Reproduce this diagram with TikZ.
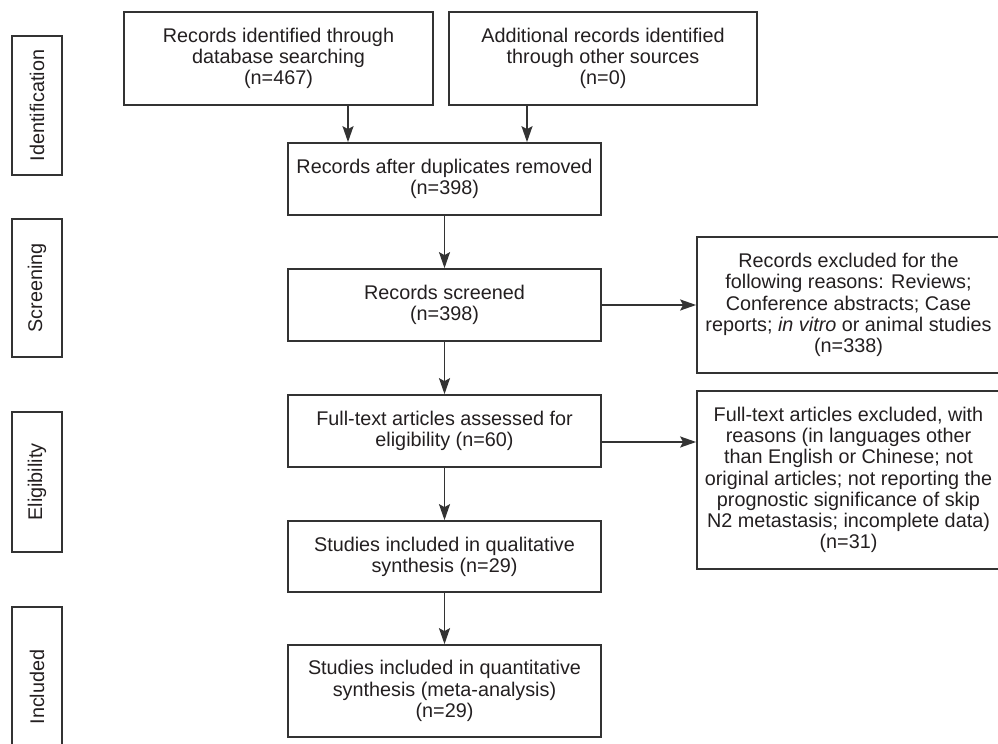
\documentclass[tikz,border=0pt]{standalone}
\usepackage{fontspec}
\setmainfont{Liberation Sans}
\usetikzlibrary{arrows.meta}
\definecolor{trait}{HTML}{333333}
\definecolor{texte}{HTML}{231F20}
\begin{document}
\begin{tikzpicture}[x=0.5pt,y=-0.5pt,
  font=\fontsize{9.9pt}{10.6pt}\selectfont, text=texte,
  boite/.style={draw=trait, line width=0.85pt, rectangle, align=center,
    minimum width=156.5pt, inner sep=2pt},
  etape/.style={draw=trait, line width=0.85pt, rectangle, rotate=90,
    minimum height=25pt, inner sep=1pt},
  fleche/.style={draw=trait, line width=0.85pt,
    -{Stealth[length=8pt,width=5.5pt,inset=1.5pt]}}]
\def\dx{34.75pt}
\useasboundingbox (0,0) rectangle (998,744);

% colonne des étapes
\node[etape, minimum width=69.5pt] (ident) at (37,105.5) {Identification};
\node[etape, minimum width=69pt] (scr) at (37,288) {Screening};
\node[etape, minimum width=70pt] (elig) at (37,482) {Eligibility};
\node[etape, minimum width=80pt] (incl) at (37,687) {Included};

% boites du haut
\node[boite, minimum width=154.5pt, minimum height=46.5pt] (db) at (278.5,58.5)
  {Records identified through\\database searching\\(n=467)};
\node[boite, minimum width=154pt, minimum height=46.5pt] (other) at (603,58.5)
  {Additional records identified\\through other sources\\(n=0)};

% colonne centrale
\node[boite, minimum height=36pt] (dup) at (444.5,179)
  {Records after duplicates removed\\(n=398)};
\node[boite, minimum height=36pt] (screen) at (444.5,305)
  {Records screened\\(n=398)};
\node[boite, minimum height=36pt] (full) at (444.5,431)
  {Full-text articles assessed for\\eligibility (n=60)};
\node[boite, minimum height=35.5pt] (qual) at (444.5,556.5)
  {Studies included in qualitative\\synthesis (n=29)};
\node[boite, minimum height=46pt] (quant) at (444.5,691)
  {Studies included in quantitative\\synthesis (meta-analysis)\\(n=29)};

% exclusions à droite
\node[boite, minimum width=151.5pt, minimum height=68pt] (excl) at (848.5,305)
  {Records excluded for the\\following reasons: Reviews;\\Conference abstracts; Case\\reports; \textit{in vitro} or animal studies\\(n=338)};
\node[boite, minimum width=151.5pt, minimum height=89pt] (exclfull) at (848.5,480)
  {Full-text articles excluded, with\\reasons (in languages other\\than English or Chinese; not\\original articles; not reporting the\\prognostic significance of skip\\N2 metastasis; incomplete data)\\(n=31)};

% flèches
\draw[fleche] ([xshift=\dx]db.south) -- ([xshift=\dx]db.south |- dup.north);
\draw[fleche] ([xshift=-38pt]other.south) -- ([xshift=-38pt]other.south |- dup.north);
\draw[fleche] (dup) -- (screen);
\draw[fleche] (screen) -- (full);
\draw[fleche] (full) -- (qual);
\draw[fleche] (qual) -- (quant);
\draw[fleche] (screen.east) -- (screen.east -| excl.west);
\draw[fleche] ([yshift=-5.5pt]full.east) -- ([yshift=-5.5pt]full.east -| exclfull.west);
\end{tikzpicture}
\end{document}
